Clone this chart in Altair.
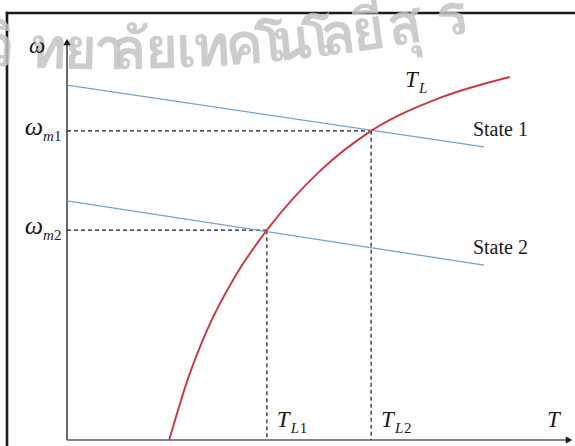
import math
import altair as alt
import pandas as pd

# Speed-torque diagram: two drive states intersecting a load characteristic T_L.
# Torque T and speed omega in arbitrary units; both axis arrows end at 100.
state1_T = [0.0, 82.4]
state1_w = [88.3, 72.9]
state2_T = [0.0, 82.4]
state2_w = [59.5, 43.5]
load_T = [20.2, 23.9, 27.7, 33.6, 39.5, 49.8, 60.1, 73.7, 87.5]
load_w = [0.0, 15.2, 27.4, 41.5, 52.2, 66.7, 76.9, 85.1, 90.3]
T_L1, T_L2 = 39.5, 60.1
w_m1, w_m2 = 76.9, 52.2
axis_end = 100.0

# watermark text, one glyph cluster per entry
wm_clusters = ["วิ", "ท", "ย", "า", "ลั", "ย", "เ", "ท", "ค", "โ", "น", "โ", "ล", "ยี", "สุ", "ร"]
wm_left = [-8, 40, 75, 105, 124, 157, 189, 205, 238, 268, 286, 316, 335, 366, 402, 452]

# layout (pixels)
W, H = 568, 433
X0, XU = 60, 5.06      # origin x in plot, px per torque unit
Y0, YU = 427, 4.02     # origin y in plot, px per speed unit

xs = alt.Scale(domain=[-X0 / XU, (W - X0) / XU], nice=False, zero=False)
ys = alt.Scale(domain=[-(H - Y0) / YU, Y0 / YU], nice=False, zero=False)

SERIF = "Liberation Serif"
THAI = "Loma, Garuda, Norasi, Noto Sans Thai Looped, Noto Sans Thai, sans-serif"
BLUE = "#74a3cc"
RED = "#c8383f"
INK = "#1a1a1a"


def enc():
    return dict(x=alt.X("T:Q", scale=xs, axis=None), y=alt.Y("w:Q", scale=ys, axis=None))


def line_layer(T, w, color, width, **kw):
    df = pd.DataFrame({"T": T, "w": w})
    return alt.Chart(df).mark_line(color=color, strokeWidth=width, **kw).encode(**enc())


def seg_layer(rows, color, width, dash=None):
    df = pd.DataFrame(rows, columns=["T", "w", "T2", "w2"])
    kw = dict(color=color, strokeWidth=width)
    if dash:
        kw["strokeDash"] = dash
    return alt.Chart(df).mark_rule(**kw).encode(**enc(), x2="T2:Q", y2="w2:Q")


def label(T, w, text, dx, dy, size, italic=True, align="left"):
    df = pd.DataFrame({"T": [T], "w": [w], "s": [text]})
    kw = dict(font=SERIF, fontSize=size, dx=dx, dy=dy, align=align,
              baseline="alphabetic", color=INK)
    if italic:
        kw["fontStyle"] = "italic"
    return alt.Chart(df).mark_text(**kw).encode(**enc(), text="s:N")


layers = []

# frame (left and top edges)
layers.append(alt.Chart().mark_rule(color=INK, strokeWidth=2.6, strokeCap="square").encode(
    x=alt.value(0), y=alt.value(0), y2=alt.value(H)))
layers.append(alt.Chart().mark_rule(color=INK, strokeWidth=2.6, strokeCap="square").encode(
    x=alt.value(0), x2=alt.value(W), y=alt.value(0)))

# watermark set along a shallow arc (centre above the chart), over the frame
ARC_CX, ARC_LOW, ARC_R = 120, 56, 1800
for txt, x in zip(wm_clusters, wm_left):
    th = math.asin((x - ARC_CX) / ARC_R)
    y = ARC_LOW - ARC_R * (1 - math.cos(th))
    ang = (-math.degrees(th)) % 360
    layers.append(alt.Chart().mark_text(
        text=txt, font=THAI, fontSize=58, fontWeight="bold", color="#c4c4c4",
        opacity=0.85, align="left", baseline="alphabetic", angle=ang).encode(
        x=alt.value(x - 19), y=alt.value(y)))

# axes with arrow heads
layers.append(seg_layer([(0, 0, 0, axis_end - 1)], INK, 1.3))
layers.append(seg_layer([(0, 0, axis_end - 1, 0)], "#5a5a5a", 1.6))
layers.append(alt.Chart(pd.DataFrame({"T": [0.0], "w": [axis_end - 1.0]})).mark_point(
    shape="triangle-up", filled=True, size=55, color=INK, opacity=1).encode(**enc()))
layers.append(alt.Chart(pd.DataFrame({"T": [axis_end - 0.8], "w": [0.0]})).mark_point(
    shape="triangle-right", filled=True, size=55, color=INK, opacity=1).encode(**enc()))

# operating-point projections
layers.append(seg_layer([(0, w_m1, T_L2, w_m1), (T_L2, w_m1, T_L2, 0),
                         (0, w_m2, T_L1, w_m2), (T_L1, w_m2, T_L1, 0)],
                        INK, 1.2, dash=[4, 3]))

# drive characteristics and load curve
layers.append(line_layer(state1_T, state1_w, BLUE, 1.3))
layers.append(line_layer(state2_T, state2_w, BLUE, 1.3))
layers.append(line_layer(load_T, load_w, RED, 1.9, interpolate="monotone"))

# labels
layers.append(label(0, axis_end, "ω", -30, 15, 23, align="center"))
for wv, d in [(w_m1, "1"), (w_m2, "2")]:
    layers.append(label(0, wv, "ω", -24, 4, 26, align="right"))
    layers.append(label(0, wv, "m", -24, 10, 15))
    layers.append(label(0, wv, d, -13, 10, 15, italic=False))

for tv, d in [(T_L1, "1"), (T_L2, "2")]:
    layers.append(label(tv, 0, "T", 10, -13, 23))
    layers.append(label(tv, 0, "L", 24, -7, 15))
    layers.append(label(tv, 0, d, 33, -7, 15, italic=False))
layers.append(label(axis_end, 0, "T", -26, -13, 23))

layers.append(label(T_L2, w_m1, "T", 34, -44, 23))
layers.append(label(T_L2, w_m1, "L", 48, -38, 15))

layers.append(label(state1_T[-1], state1_w[-1], "State 1", -11, -11, 20, italic=False))
layers.append(label(state2_T[-1], state2_w[-1], "State 2", -11, -11, 20, italic=False))

chart = alt.layer(*layers).properties(
    width=W, height=H,
    padding={"left": 7, "top": 13, "right": 0, "bottom": 0},
    autosize=alt.AutoSizeParams(type="none"),
    background="white",
).configure_view(stroke=None)

chart.save("out.html", embed_options={"renderer": "svg", "actions": False})
